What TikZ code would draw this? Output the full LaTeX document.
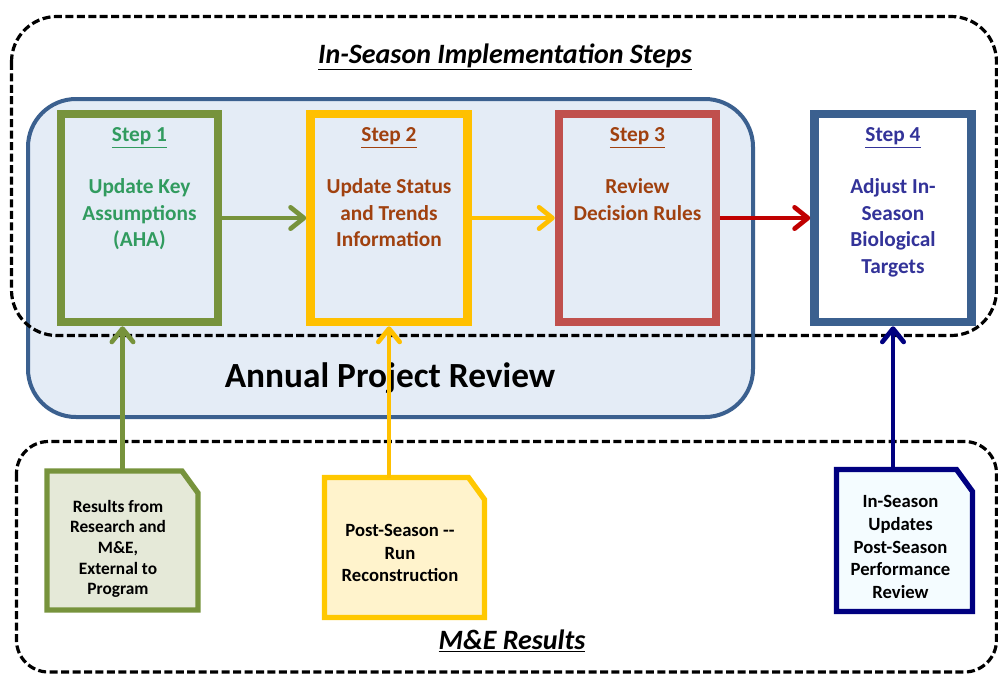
\documentclass[tikz,border=0pt]{standalone}
\usepackage{fontspec}
\setmainfont{Carlito}
\usetikzlibrary{arrows.meta,positioning}

\definecolor{olive}{RGB}{119,147,60}
\definecolor{olivetext}{RGB}{49,155,95}
\definecolor{olivefill}{RGB}{229,233,216}
\definecolor{gold}{RGB}{255,192,0}
\definecolor{goldline}{RGB}{255,200,0}
\definecolor{goldfill}{RGB}{255,243,204}
\definecolor{rosered}{RGB}{192,80,77}
\definecolor{darkred}{RGB}{192,0,0}
\definecolor{rusttext}{RGB}{160,65,15}
\definecolor{steelblue}{RGB}{59,96,143}
\definecolor{reviewfill}{RGB}{228,236,246}
\definecolor{indigotext}{RGB}{51,51,153}
\definecolor{navy}{RGB}{0,0,128}
\definecolor{icefill}{RGB}{244,252,255}

\begin{document}
\begin{tikzpicture}[x=0.75pt,y=-0.75pt,
  stepbox/.style={draw, line width=6.4pt, minimum width=117.75pt, minimum height=156pt, inner sep=0pt},
  stephead/.style={font=\fontsize{16}{19}\selectfont\bfseries, anchor=base, inner sep=0pt},
  steptext/.style={font=\fontsize{16}{20}\selectfont\bfseries, align=center, anchor=north, inner sep=0pt},
  docbox/.style={draw=none, inner sep=0pt, outer sep=0pt},
  docline/.style={line width=4pt},
  doctext/.style={font=\fontsize{14}{16.9}\selectfont\bfseries, align=center, inner sep=0pt},
  frame/.style={line width=2.4pt, dash pattern=on 6pt off 2.6pt},
  flow/.style={line width=3.5pt, -{Straight Barb[length=10pt,width=16pt,round]}},
  heading/.style={font=\fontsize{21}{25}\selectfont\bfseries\itshape, anchor=base, inner sep=0pt}]
\useasboundingbox (0,0) rectangle (998,675);

% annual review panel
\draw[line width=3pt, draw=steelblue, fill=reviewfill, rounded corners=36pt] (28,99) rectangle (753,417);
\node[font=\fontsize{26.5}{30}\selectfont\bfseries, anchor=base, inner sep=0pt] (annual) at (390,387) {Annual Project Review};

% dashed frames
\draw[frame, rounded corners=34pt] (11.5,16.5) rectangle (996.5,335.5);
\draw[frame, rounded corners=24pt] (16.5,441.5) rectangle (996.5,672);
\node[heading] (implt) at (505,63) {\underline{In-Season Implementation Steps}};
\node[heading] (metitle) at (512,649) {\underline{M\&E Results}};

% steps
\node[stepbox, draw=olive] (s1) at (139.5,218) {};
\node[stepbox, draw=gold] (s2) at (389,218) {};
\node[stepbox, draw=rosered] (s3) at (637.5,218) {};
\node[stepbox, draw=steelblue, fill=white] (s4) at (893,218) {};

\node[stephead, text=olivetext] (s1head) at ([yshift=-24pt]s1.north) {\underline{Step 1}};
\node[stephead, text=rusttext] (s2head) at ([yshift=-24pt]s2.north) {\underline{Step 2}};
\node[stephead, text=rusttext] (s3head) at ([yshift=-24pt]s3.north) {\underline{Step 3}};
\node[stephead, text=indigotext] (s4head) at ([yshift=-24pt]s4.north) {\underline{Step 4}};

\node[steptext, text=olivetext] (s1text) at ([yshift=-51.5pt]s1.north) {Update Key\\Assumptions\\(AHA)};
\node[steptext, text=rusttext] (s2text) at ([yshift=-51.5pt]s2.north) {Update Status\\and Trends\\Information};
\node[steptext, text=rusttext] (s3text) at ([yshift=-51.5pt]s3.north) {Review\\Decision Rules};
\node[steptext, text=indigotext] (s4text) at ([yshift=-51.5pt]s4.north) {Adjust In-\\Season\\Biological\\Targets};

% M&E documents
\node[docbox, minimum width=113.25pt, minimum height=104.25pt] (d1) at (122.5,540.5) {};
\node[docbox, minimum width=120pt, minimum height=105pt] (d2) at (404.5,547.5) {};
\node[docbox, minimum width=102pt, minimum height=106.5pt] (d3) at (904.5,540.5) {};

\draw[docline, draw=olive, fill=olivefill] (d1.south west) |- ([xshift=-12pt]d1.north east) -- ([yshift=-16.5pt]d1.north east) -- (d1.south east) -- cycle;
\draw[docline, draw=goldline, fill=goldfill] (d2.south west) |- ([xshift=-12pt]d2.north east) -- ([yshift=-16.5pt]d2.north east) -- (d2.south east) -- cycle;
\draw[docline, draw=navy, fill=icefill] (d3.south west) |- ([xshift=-12pt]d3.north east) -- ([yshift=-16.5pt]d3.north east) -- (d3.south east) -- cycle;

\node[doctext, font=\fontsize{13}{15.5}\selectfont\bfseries] (d1text) at (118,549) {Results from\\Research and\\M\&E,\\External to\\Program};
\node[doctext] (d2text) at (400,553) {Post-Season -{}-\\Run\\Reconstruction};
\node[doctext] (d3text) at (900.5,547) {In-Season\\Updates\\Post-Season\\Performance\\Review};

% flow between steps
\draw[flow, draw=olive] (s1) -- (s2);
\draw[flow, draw=gold] (s2) -- (s3);
\draw[flow, draw=darkred] (s3.east) -- (s4.west);

% results feeding the steps
\draw[flow, draw=olive] (d1.north) -- (d1.north |- s1.south);
\draw[flow, draw=gold] (s2.south |- d2.north) -- (s2.south);
\draw[flow, draw=navy] (s4.south |- d3.north) -- (s4.south);
\end{tikzpicture}
\end{document}
